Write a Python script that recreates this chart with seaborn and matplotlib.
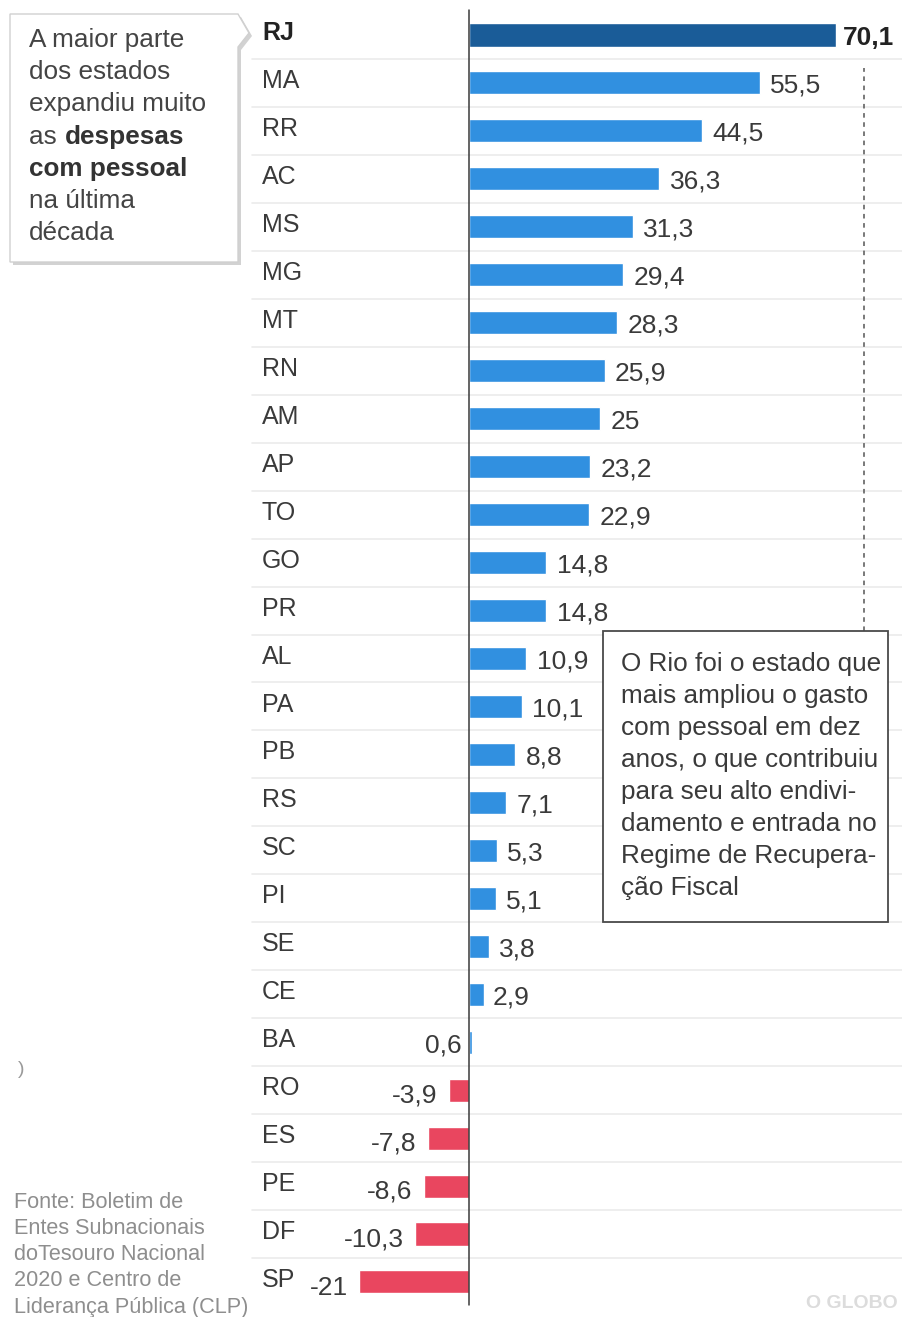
import matplotlib
matplotlib.use("Agg")
import matplotlib.pyplot as plt
from matplotlib.patches import Polygon, Rectangle
import seaborn as sns
import pandas as pd

# ---- data ----
states = ["RJ", "MA", "RR", "AC", "MS", "MG", "MT", "RN", "AM", "AP", "TO", "GO", "PR",
          "AL", "PA", "PB", "RS", "SC", "PI", "SE", "CE", "BA", "RO", "ES", "PE", "DF", "SP"]
values = [70.1, 55.5, 44.5, 36.3, 31.3, 29.4, 28.3, 25.9, 25.0, 23.2, 22.9, 14.8, 14.8,
          10.9, 10.1, 8.8, 7.1, 5.3, 5.1, 3.8, 2.9, 0.6, -3.9, -7.8, -8.6, -10.3, -21.0]
value_labels = ["70,1", "55,5", "44,5", "36,3", "31,3", "29,4", "28,3", "25,9", "25", "23,2",
                "22,9", "14,8", "14,8", "10,9", "10,1", "8,8", "7,1", "5,3", "5,1", "3,8",
                "2,9", "0,6", "-3,9", "-7,8", "-8,6", "-10,3", "-21"]
highlight = "RJ"

left_note = ["A maior parte", "dos estados", "expandiu muito", "as |despesas",
             "|com pessoal", "na última", "década"]
right_note = ["O Rio foi o estado que", "mais ampliou o gasto", "com pessoal em dez",
              "anos, o que contribuiu", "para seu alto endivi-", "damento e entrada no",
              "Regime de Recupera-", "ção Fiscal"]
source_lines = ["Fonte: Boletim de", "Entes Subnacionais", "doTesouro Nacional",
                "2020 e Centro de", "Liderança Pública (CLP)"]

# ---- style ----
sns.set_theme(style="white")
plt.rcParams["font.family"] = ["Liberation Sans", "DejaVu Sans"]

BLUE = "#3190e0"
DARK = "#1a5c98"
RED = "#e9465f"
TXT = "#3a3a3a"

colors = [DARK if s == highlight else (BLUE if v >= 0 else RED) for s, v in zip(states, values)]
df = pd.DataFrame({"state": states, "value": values})

W, H = 903, 1317
fig = plt.figure(figsize=(W / 100, H / 100), dpi=100)
ax = fig.add_axes([0, 0, 1, 1])

sns.barplot(data=df, y="state", x="value", hue="state", palette=colors, legend=False,
            orient="h", width=0.48, saturation=1, ax=ax, zorder=3)

# pixel mapping: zero at x=469, 5.235 px/unit; rows start at y=35, 47.96 px apart
s = 5.235
ax.set_xlim(-469 / s, (W - 469) / s)
top, step = 35, 47.96
ax.set_ylim((H - top) / step, -top / step)
ax.axis("off")

# separators
for i in range(len(states) - 1):
    ax.axhline(i + 0.5, xmin=252 / W, xmax=1, color="#ebebeb", lw=1.2, zorder=1)

# zero line
ax.axvline(0, ymin=1 - 1305 / H, ymax=1 - 10 / H, color="#3a3a3a", lw=1.1, zorder=4)
# dashed reference
ax.axvline((864 - 469) / s, ymin=1 - 631 / H, ymax=1 - 68 / H, color="#555555",
           lw=1.1, ls=(0, (3, 3)), zorder=2)

# labels
FS_STATE, FS_VAL = 18, 19
for i, (st, v, lab) in enumerate(zip(states, values, value_labels)):
    bold = st == highlight
    ax.text(-469 / s + 262 / s, i - 0.04, st, ha="left", va="center", fontsize=FS_STATE,
            color="#222222" if bold else TXT, fontweight="bold" if bold else "normal")
    if v >= 3:
        ax.text(v + (1.3 if bold else 2.0), i + 0.06, lab, ha="left", va="center",
                fontsize=FS_VAL, color="#222222" if bold else TXT,
                fontweight="bold" if bold else "normal")
    elif v >= 0:
        ax.text(v + 1.6 if v > 1 else -1.5, i + 0.06, lab,
                ha="left" if v > 1 else "right", va="center", fontsize=FS_VAL, color=TXT)
    else:
        ax.text(v - 2.2, i + 0.12, lab, ha="right", va="center", fontsize=FS_VAL, color=TXT)

# overlay in pixel coordinates
ov = fig.add_axes([0, 0, 1, 1], facecolor="none")
ov.set_xlim(0, W)
ov.set_ylim(H, 0)
ov.axis("off")

# left callout box with pointer + shadow
pts = [(10, 14), (238, 14), (249, 33), (238, 47), (238, 262), (10, 262)]
shadow = [(x + 3, y + 3) for x, y in pts]
ov.add_patch(Polygon(shadow, closed=True, facecolor="#d2d2d2", edgecolor="none", zorder=5))
ov.add_patch(Polygon(pts, closed=True, facecolor="white", edgecolor="#d0d0d0", lw=1, zorder=6))
FS_NOTE = 18.8
for k, line in enumerate(left_note):
    y = 40 + k * 32.2
    if line.startswith("|"):
        ov.text(29, y, line[1:], ha="left", va="center", fontsize=FS_NOTE, color="#333333",
                fontweight="bold", zorder=7)
    elif "|" in line:
        a, b = line.split("|")
        ov.text(29, y, a, ha="left", va="center", fontsize=FS_NOTE, color="#444444", zorder=7)
        ov.text(65, y, b, ha="left", va="center", fontsize=FS_NOTE, color="#333333",
                fontweight="bold", zorder=7)
    else:
        ov.text(29, y, line, ha="left", va="center", fontsize=FS_NOTE, color="#444444", zorder=7)

# right annotation box
ov.add_patch(Rectangle((603, 631), 285, 291, facecolor="white", edgecolor="#4a4a4a",
                       lw=1.3, zorder=6))
for k, line in enumerate(right_note):
    ov.text(621, 664 + k * 32, line, ha="left", va="center", fontsize=18.8,
            color="#3a3a3a", zorder=7)

# source
for k, line in enumerate(source_lines):
    ov.text(14, 1203 + k * 26, line, ha="left", va="center", fontsize=15.6,
            color="#8e8e8e", zorder=7)

ov.text(18, 1070, ")", ha="left", va="center", fontsize=14, color="#9a9a9a")
ov.text(898, 1304, "O GLOBO", ha="right", va="center", fontsize=14, color="#dcdcdc",
        fontweight="bold")

fig.savefig("out.png", dpi=100, facecolor="white")
